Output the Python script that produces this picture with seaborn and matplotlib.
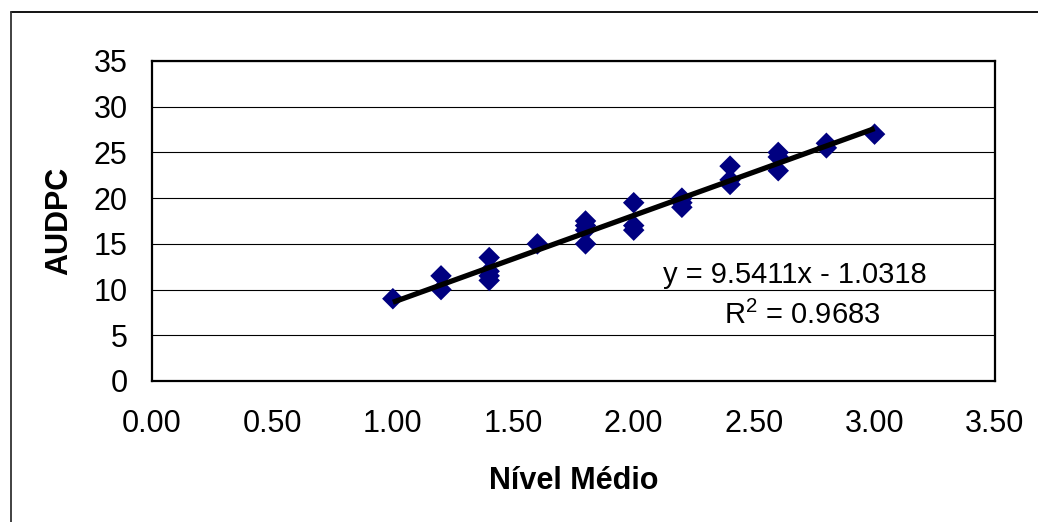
import matplotlib
matplotlib.use("Agg")
import matplotlib.pyplot as plt
from matplotlib.lines import Line2D
import seaborn as sns
import pandas as pd

# Data
nivel_medio = [1.0, 1.2, 1.2, 1.4, 1.4, 1.4, 1.4, 1.6, 1.8, 1.8, 1.8, 1.8,
               2.0, 2.0, 2.0, 2.2, 2.2, 2.2, 2.4, 2.4, 2.4, 2.6, 2.6, 2.6,
               2.8, 2.8, 3.0]
audpc = [9.0, 11.5, 10.0, 13.5, 12.0, 11.5, 11.0, 15.0, 17.5, 17.0, 16.5, 15.0,
         19.5, 17.0, 16.5, 20.0, 19.5, 19.0, 23.5, 22.0, 21.5, 25.0, 24.5, 23.0,
         26.0, 25.5, 27.0]
x_ticks = [0.0, 0.5, 1.0, 1.5, 2.0, 2.5, 3.0, 3.5]
x_tick_labels = ["0.00", "0.50", "1.00", "1.50", "2.00", "2.50", "3.00", "3.50"]
y_ticks = [0, 5, 10, 15, 20, 25, 30, 35]
equation_text = "y = 9.5411x - 1.0318"
r2_text = "R$^2$ = 0.9683"

df = pd.DataFrame({"Nível Médio": nivel_medio, "AUDPC": audpc})

sns.set_style("white")
plt.rcParams["font.family"] = ["Liberation Sans", "DejaVu Sans"]
plt.rcParams["mathtext.fontset"] = "custom"
plt.rcParams["mathtext.rm"] = "Liberation Sans"
plt.rcParams["text.color"] = "black"
plt.rcParams["axes.labelcolor"] = "black"

W, H = 1038, 522
fig = plt.figure(figsize=(W / 100, H / 100), dpi=100)
ax = fig.add_axes([152 / W, 1 - 381 / H, (995 - 152) / W, (381 - 61) / H])

sns.scatterplot(data=df, x="Nível Médio", y="AUDPC", marker="D", s=120,
                color="#000080", edgecolor="none", ax=ax, zorder=3)
sns.regplot(data=df, x="Nível Médio", y="AUDPC", scatter=False, ci=None,
            color="black", line_kws={"linewidth": 3.8, "solid_capstyle": "butt"},
            ax=ax)
ax.lines[-1].set_zorder(4)

ax.set_xlim(0, 3.5)
ax.set_ylim(0, 35)
ax.set_xticks(x_ticks)
ax.set_xticklabels(x_tick_labels)
ax.set_yticks(y_ticks)
ax.yaxis.grid(True, color="black", linewidth=0.8)
ax.set_axisbelow(True)
for sp in ax.spines.values():
    sp.set_visible(True)
    sp.set_color("black")
    sp.set_linewidth(1.6)
ax.tick_params(axis="both", which="major", direction="out", length=6.5,
               width=1.0, color="#808080", labelsize=22, labelcolor="black")
ax.tick_params(axis="y", pad=11)
ax.tick_params(axis="x", pad=14)

ax.set_xlabel("Nível Médio", fontsize=22, fontweight="bold", labelpad=19,
              color="black")
ax.set_ylabel("AUDPC", fontsize=22, fontweight="bold", labelpad=14,
              color="black")

ax.text(2.67, 10.72, equation_text, fontsize=21, ha="center", va="baseline",
        color="black")
ax.text(2.70, 6.24, r2_text, fontsize=21, ha="center", va="baseline",
        color="black")

# outer chart-area border (top and left edges visible)
fig.add_artist(Line2D([11 / W, 1.0], [1 - 12 / H, 1 - 12 / H], color="black",
                      linewidth=1.3, transform=fig.transFigure))
fig.add_artist(Line2D([11 / W, 11 / W], [0.0, 1 - 12 / H], color="#333333",
                      linewidth=1.3, transform=fig.transFigure))

fig.savefig("out.png", dpi=100)
